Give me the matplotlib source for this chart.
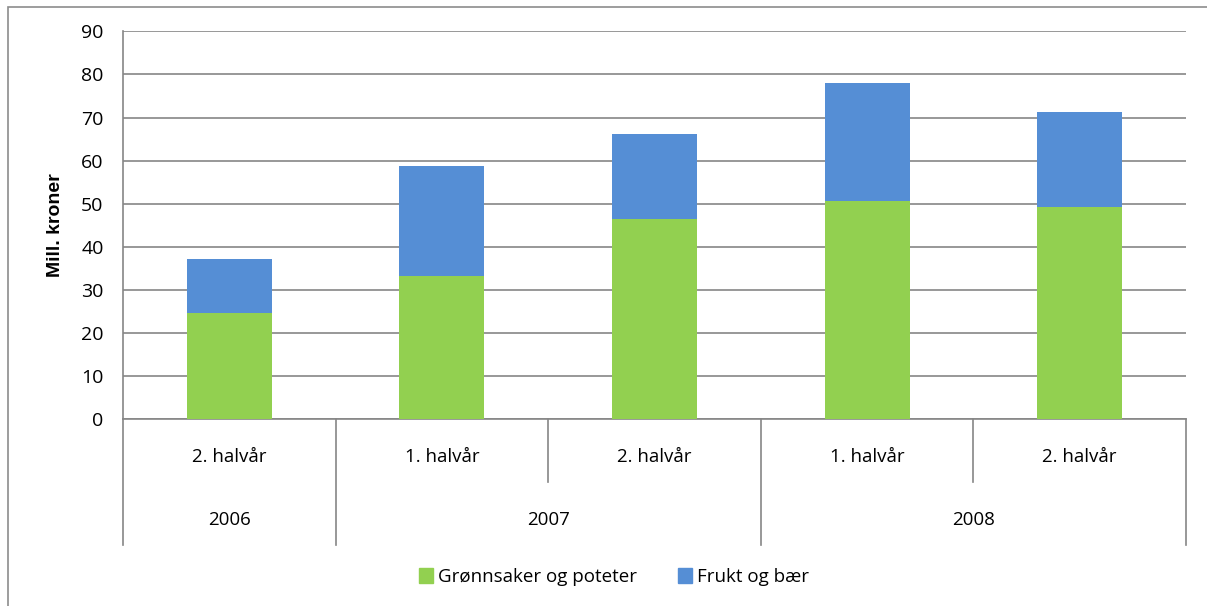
import matplotlib
matplotlib.use('Agg')
import matplotlib.pyplot as plt
import numpy as np
from matplotlib.patches import Rectangle, Patch

halvaar = ['2. halvår', '1. halvår', '2. halvår', '1. halvår', '2. halvår']
aar = ['2006', '2007', '2008']
aar_span = [(0, 0), (1, 2), (3, 4)]
gronnsaker = [24.6, 33.2, 46.5, 50.6, 49.3]
frukt = [12.5, 25.6, 19.7, 27.4, 22.0]
serier = ['Grønnsaker og poteter', 'Frukt og bær']
farger = ['#92D050', '#558ED5']

plt.rcParams['font.family'] = ['Liberation Sans Narrow', 'Open Sans', 'DejaVu Sans']

fig = plt.figure(figsize=(12.07, 6.06), dpi=100)
# chart frame
fig.patches.append(Rectangle((8/1207, -0.1), 1.2, 1 - 7/606 + 0.1, transform=fig.transFigure,
                             fill=False, edgecolor='#8C8C8C', lw=1.2))

ax = fig.add_axes([0.1019, 0.3081, 0.8807, 0.6402])
x = np.arange(len(halvaar))
ax.bar(x, gronnsaker, width=0.40, color=farger[0], zorder=3)
ax.bar(x, frukt, width=0.40, bottom=gronnsaker, color=farger[1], zorder=3)

ax.set_xlim(-0.5, 4.5)
ax.set_ylim(0, 90)
ax.set_yticks(range(0, 91, 10))
ax.grid(axis='y', color='#868686', lw=1.2, zorder=0)
ax.tick_params(axis='y', length=0, pad=14, labelsize=14)
ax.set_xticks([])
for s in ['top', 'right']:
    ax.spines[s].set_visible(False)
ax.spines['left'].set_color('#868686')
ax.spines['bottom'].set_color('#868686')
ax.spines['left'].set_linewidth(1.2)
ax.spines['bottom'].set_linewidth(1.2)
ax.set_ylabel('Mill. kroner', fontsize=14, fontweight='bold',
              family=['Liberation Sans', 'DejaVu Sans'], labelpad=12)

# two-level category axis
tr = ax.get_xaxis_transform()
for xv in [-0.5, 0.5, 2.5, 4.5]:
    ax.plot([xv, xv], [0, -0.3237], transform=tr, color='#868686', lw=1.2, clip_on=False)
for xv in [1.5, 3.5]:
    ax.plot([xv, xv], [0, -0.1616], transform=tr, color='#868686', lw=1.2, clip_on=False)
for xv, lab in zip(x, halvaar):
    ax.text(xv, -0.097, lab, transform=tr, ha='center', va='center', fontsize=13.5)
for (a, b), lab in zip(aar_span, aar):
    ax.text((a + b) / 2, -0.259, lab, transform=tr, ha='center', va='center', fontsize=13.5)

handles = [Patch(color=c, label=l) for c, l in zip(farger, serier)]
fig.legend(handles=handles, loc='center', bbox_to_anchor=(0.509, 0.048), ncol=2,
           frameon=False, fontsize=13.5, handlelength=0.7, handleheight=0.9,
           handletextpad=0.3, columnspacing=2.2)

fig.savefig('out.png', dpi=100)
